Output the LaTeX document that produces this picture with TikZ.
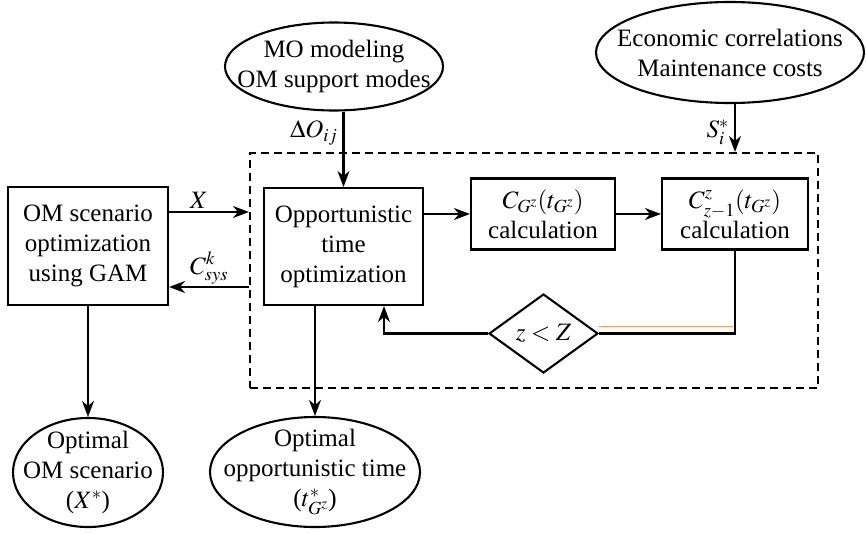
\documentclass[tikz,border=0pt]{standalone}
\usepackage{mathptmx}
\usepackage[no-math]{fontspec}
\setmainfont{Liberation Serif}
\usetikzlibrary{shapes.geometric,arrows.meta,calc}
\definecolor{strayorange}{HTML}{F5A263}
\begin{document}
\begin{tikzpicture}[x=1pt,y=-1pt,
  every node/.style={font=\fontsize{25}{30}\selectfont},
  blk/.style={draw,line width=2.1pt,rectangle,align=center,inner sep=0pt},
  oval/.style={draw,line width=2.1pt,ellipse,align=center,inner sep=-80pt},
  cond/.style={draw,line width=2.1pt,diamond,inner sep=0pt},
  frame/.style={draw,line width=2.1pt,dash pattern=on 8pt off 5pt,inner sep=0pt},
  conn/.style={line width=2.1pt},
  arr/.style={line width=2.1pt,-{Stealth[length=16pt,width=12pt,inset=5pt]}},
  lbl/.style={inner sep=2pt}]
\useasboundingbox (0,0) rectangle (866,533);
% dashed frame
\node[frame,minimum width=568pt,minimum height=235pt] (fr) at (534,270.5) {};
% blocks
\node[blk,minimum width=160pt,minimum height=118pt] (om) at (88,246) {OM scenario\\optimization\\using GAM};
\node[blk,minimum width=159pt,minimum height=117pt] (opp) at (343.5,246.5) {Opportunistic\\time\\optimization};
\node[blk,minimum width=144pt,minimum height=71pt] (cg) at (543,214) {$C_{G^z}(t_{G^z})$\\calculation};
\node[blk,minimum width=146pt,minimum height=71pt] (cz) at (735,214) {$C^{z}_{z-1}(t_{G^z})$\\calculation};
\node[cond,minimum width=109pt,minimum height=79pt] (dia) at (543.5,333.5) {$z<Z$};
% ellipses
\node[oval,minimum width=218pt,minimum height=88pt] (mo) at (334,66.5) {MO modeling\\OM support modes};
\node[oval,minimum width=268pt,minimum height=101pt] (eco) at (730,52.5) {Economic correlations\\Maintenance costs};
\node[oval,minimum width=150pt,minimum height=109pt] (oms) at (88,472.5) {Optimal\\OM scenario\\($X^{*}$)};
\node[oval,minimum width=210pt,minimum height=110pt] (opt) at (315,472) {Optimal\\opportunistic time\\($t^{*}_{G^z}$)};
% connectors
\coordinate (xa) at ([yshift=34pt]om.east);
\coordinate (cs) at ([yshift=-41pt]om.east);
\draw[arr] (xa) -- node[lbl,above,xshift=-10pt] {$X$} (xa -| fr.west);
\draw[arr] (cs -| fr.west) -- node[lbl,above] {$C^{k}_{sys}$} (cs);
\draw[arr] (om.south) -- (oms.north);
\draw[arr] (opp.north |- mo.south) -- node[lbl,pos=0.28,left=3pt] {$\Delta O_{ij}$} (opp.north);
\draw[arr] (cz.north |- eco.south) -- node[lbl,pos=0.58,left=3pt] {$S^{*}_{i}$} (cz.north |- fr.north);
\draw[arr] (opp.east |- cg.west) -- (cg.west);
\draw[arr] (cg.east) -- (cz.west);
\draw[conn] (cz.south) |- (dia.east);
\draw[arr] (dia.west) -| ([xshift=40.5pt]opp.south);
\draw[arr] (opt.north |- opp.south) -- (opt.north);
\draw[strayorange,line width=1pt] ([yshift=7pt]dia.east) -- ([yshift=7pt,xshift=-2pt]dia.east -| cz.south);
\end{tikzpicture}
\end{document}
